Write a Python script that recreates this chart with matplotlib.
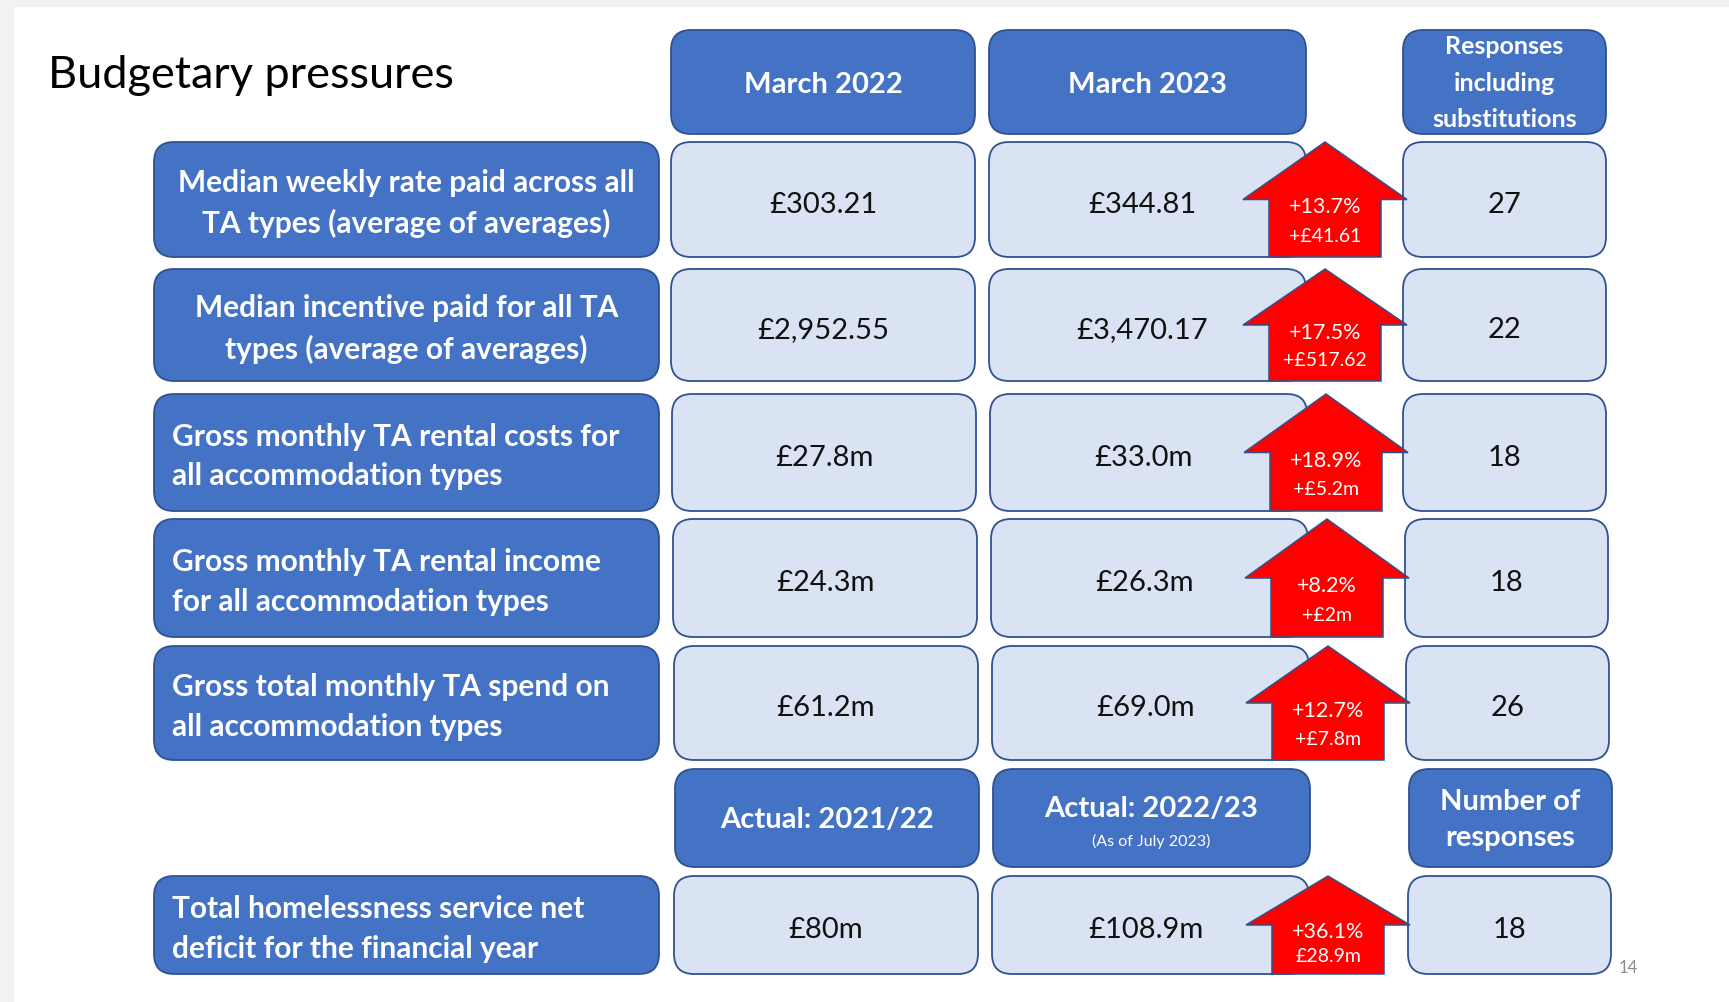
#!/usr/bin/env python3
"""Budgetary pressures slide: table of rounded boxes with red up-arrows."""

import matplotlib
matplotlib.use("Agg")
import matplotlib.pyplot as plt
from matplotlib.patches import FancyBboxPatch, Polygon, Rectangle

plt.rcParams["font.family"] = ["Lato", "DejaVu Sans"]

# ---- data ----
row_labels = [
    "Median weekly rate paid across all\nTA types (average of averages)",
    "Median incentive paid for all TA\ntypes (average of averages)",
    "Gross monthly TA rental costs for\nall accommodation types",
    "Gross monthly TA rental income\nfor all accommodation types",
    "Gross total monthly TA spend on\nall accommodation types",
    "Total homelessness service net\ndeficit for the financial year",
]
label_centered = [True, True, False, False, False, False]
col_a = ["£303.21", "£2,952.55", "£27.8m", "£24.3m", "£61.2m", "£80m"]
col_b = ["£344.81", "£3,470.17", "£33.0m", "£26.3m", "£69.0m", "£108.9m"]
change_pct = ["+13.7%", "+17.5%", "+18.9%", "+8.2%", "+12.7%", "+36.1%"]
change_abs = ["+£41.61", "+£517.62", "+£5.2m", "+£2m", "+£7.8m", "£28.9m"]
responses = [27, 22, 18, 18, 26, 18]

headers_top = ["March 2022", "March 2023", "Responses\nincluding\nsubstitutions"]
headers_bottom = ["Actual: 2021/22", "Actual: 2022/23", "Number of\nresponses"]
header_note = "(As of July 2023)"

# ---- layout (pixel units) ----
W, H = 1729, 1003
DARK = "#4472C4"
LIGHT = "#DAE3F3"
EDGE = "#2F528F"
RED = "#FF0000"

col_x = [(154, 659), (671, 975), (989, 1306), (1403, 1606)]
row_y = [(143, 258), (270, 382), (395, 512), (520, 638), (647, 761), (877, 975)]
row_dx = [0, 0, 1, 2, 3, 3]          # slide boxes drift slightly right lower down
resp_dx = [0, 0, 0, 2, 3, 5]
head_top_y = (31, 135)
head_bot_y = (770, 868)


def rbox(ax, x0, x1, y0, y1, fc, r=20, z=2):
    p = FancyBboxPatch((x0, y0), x1 - x0, y1 - y0,
                       boxstyle=f"round,pad=0,rounding_size={r}",
                       fc=fc, ec=EDGE, lw=1.3, zorder=z)
    ax.add_patch(p)


def up_arrow(ax, cx, y_top, y_bot, half_head=82, half_shaft=56, head_h=64):
    yb = y_top + head_h
    pts = [(cx, y_top), (cx + half_head, yb), (cx + half_shaft, yb),
           (cx + half_shaft, y_bot), (cx - half_shaft, y_bot),
           (cx - half_shaft, yb), (cx - half_head, yb)]
    ax.add_patch(Polygon(pts, closed=True, fc=RED, ec=EDGE, lw=1.1, zorder=4))


fig = plt.figure(figsize=(W / 100, H / 100), dpi=100)
ax = fig.add_axes([0, 0, 1, 1])
ax.set_xlim(0, W)
ax.set_ylim(H, 0)
ax.axis("off")

# slide frame
ax.add_patch(Rectangle((0, 0), W, 8, fc="#F2F2F2", ec="none", zorder=0))
ax.add_patch(Rectangle((0, 0), 14, H, fc="#F2F2F2", ec="none", zorder=0))

ax.text(48, 75, "Budgetary pressures", fontsize=32.5, color="black",
        ha="left", va="center")

# header rows
for j, (name, (x0, x1)) in enumerate(zip(headers_top, col_x[1:])):
    rbox(ax, x0, x1, *head_top_y, DARK)
    if j == 2:
        ax.text((x0 + x1) / 2, sum(head_top_y) / 2, name, color="white",
                fontsize=18, fontweight="bold", ha="center", va="center",
                linespacing=1.7)
    else:
        ax.text((x0 + x1) / 2, sum(head_top_y) / 2 + 2, name, color="white",
                fontsize=21, fontweight="bold", ha="center", va="center")

for j, (name, (x0, x1)) in enumerate(zip(headers_bottom, col_x[1:])):
    dx = 4 if j < 2 else 6
    x0, x1 = x0 + dx, x1 + dx
    rbox(ax, x0, x1, *head_bot_y, DARK)
    cy = sum(head_bot_y) / 2
    if j == 1:
        ax.text((x0 + x1) / 2, cy - 10, name, color="white", fontsize=21,
                fontweight="bold", ha="center", va="center")
        ax.text((x0 + x1) / 2, cy + 22, header_note, color="white",
                fontsize=11.5, ha="center", va="center")
    else:
        ax.text((x0 + x1) / 2, cy + 1, name, color="white", fontsize=21,
                fontweight="bold", ha="center", va="center", linespacing=1.5)

# data rows
for i, (y0, y1) in enumerate(row_y):
    cy = (y0 + y1) / 2
    lx0, lx1 = col_x[0]
    rbox(ax, lx0, lx1, y0, y1, DARK)
    if label_centered[i]:
        ax.text((lx0 + lx1) / 2, cy + 3, row_labels[i], color="white", fontsize=21.5,
                fontweight="bold", ha="center", va="center", linespacing=1.5)
    else:
        ax.text(lx0 + 18, cy + 3, row_labels[i], color="white", fontsize=21.5,
                fontweight="bold", ha="left", va="center", linespacing=1.5)

    for k, val in ((1, col_a[i]), (2, col_b[i]), (3, str(responses[i]))):
        x0, x1 = col_x[k]
        dx = resp_dx[i] if k == 3 else row_dx[i]
        x0, x1 = x0 + dx, x1 + dx
        rbox(ax, x0, x1, y0, y1, LIGHT)
        tx = (x0 + x1) / 2 if k != 2 else (x0 + x1) / 2 - 5
        ax.text(tx, cy + 4, val, color="#111111", fontsize=21,
                ha="center", va="center")

    # change arrow straddling March 2023 / responses columns
    acx = 1325 + row_dx[i]
    up_arrow(ax, acx, y0, y1, head_h=(y1 - y0) * 0.5)
    ax.text(acx, y0 + (y1 - y0) * 0.56, change_pct[i], color="white",
            fontsize=15.5, ha="center", va="center", zorder=5)
    ax.text(acx, y0 + (y1 - y0) * 0.81, change_abs[i], color="white",
            fontsize=14, ha="center", va="center", zorder=5)

ax.text(1628, 968, "14", color="#8C8C8C", fontsize=12, ha="center", va="center")

fig.savefig("out.png", dpi=100)
